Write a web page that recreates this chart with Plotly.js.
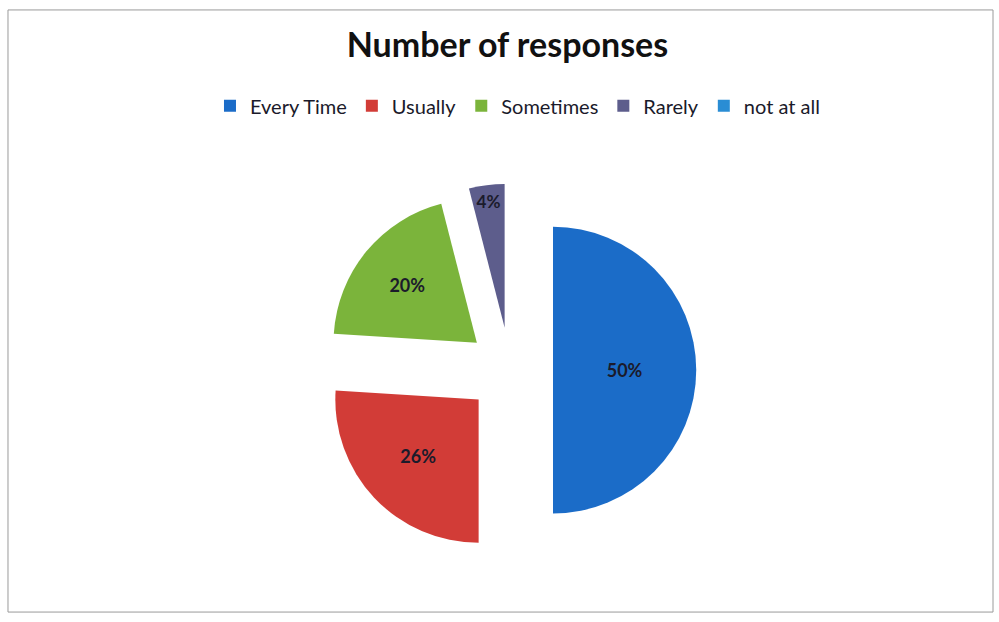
<!DOCTYPE html>
<html>
<head>
<meta charset="utf-8">
<script src="https://cdn.plot.ly/plotly-3.0.1.min.js"></script>
<style>html,body{margin:0;padding:0;background:#fff;}#chart{width:999px;height:622px;}</style>
</head>
<body>
<div id="chart"></div>
<script>
const categories = ['Every Time', 'Usually', 'Sometimes', 'Rarely', 'not at all'];
const percentages = [50, 26, 20, 4, 0];
const sliceColors = ['#1b6cc8', '#d23c37', '#7bb43b', '#5d5d8c', '#2a8dd4'];

const labelsText = percentages.map(v => v > 0 ? v + '%' : '');

const trace = {
  type: 'pie',
  labels: categories,
  values: percentages,
  text: labelsText,
  textinfo: 'text',
  textposition: 'inside',
  insidetextorientation: 'horizontal',
  insidetextfont: {family: 'Lato, sans-serif', size: 18, color: '#1b1b2b', weight: 'bold'},
  sort: false,
  direction: 'clockwise',
  rotation: 0,
  pull: [0.3, 0.3, 0.3, 0.3, 0.3],
  marker: {colors: sliceColors, line: {width: 0}},
  domain: {x: [0.324, 0.697], y: [0.1, 0.71]},
  hoverinfo: 'label+percent'
};

const layout = {
  width: 999,
  height: 622,
  margin: {l: 0, r: 0, t: 0, b: 0},
  paper_bgcolor: '#ffffff',
  title: {
    text: '<b>Number of responses</b>',
    font: {family: 'Lato, sans-serif', size: 34, color: '#111111'},
    x: 0.508, xanchor: 'center',
    y: 0.928, yanchor: 'middle'
  },
  showlegend: true,
  legend: {
    orientation: 'h',
    x: 0.518, xanchor: 'center',
    y: 0.83, yanchor: 'middle',
    font: {family: 'Lato, sans-serif', size: 20, color: '#1a1a2a'},
    traceorder: 'normal'
  },
  shapes: [{
    type: 'rect', xref: 'paper', yref: 'paper',
    x0: 0.008, x1: 0.994, y0: 0.016, y1: 0.984,
    line: {color: '#9a9a9a', width: 1}
  }]
};

Plotly.newPlot('chart', [trace], layout, {displayModeBar: false, staticPlot: true});
</script>
</body>
</html>
